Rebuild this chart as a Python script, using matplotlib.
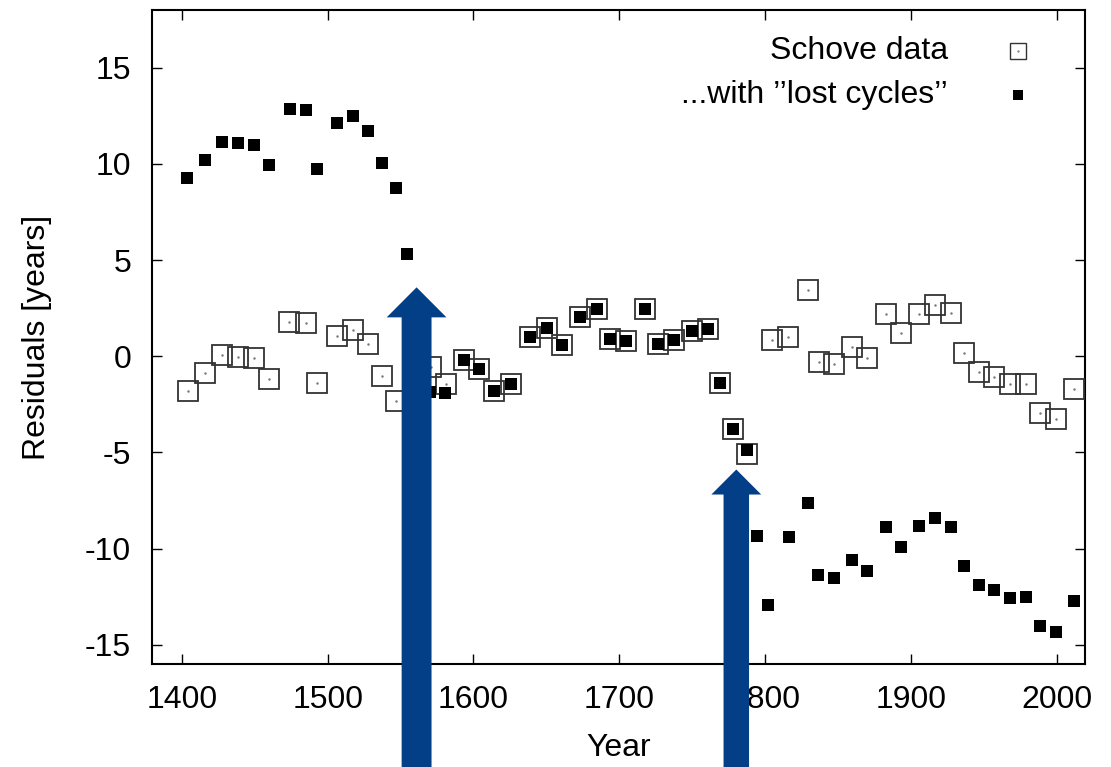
import matplotlib
matplotlib.use("Agg")
import matplotlib.pyplot as plt
from matplotlib.patches import FancyArrow

plt.rcParams['font.family'] = ['Liberation Sans', 'DejaVu Sans']
plt.rcParams['axes.unicode_minus'] = False

# Schove data (open squares)
schove_year = [1404.0, 1416.0, 1427.8, 1438.8, 1449.7, 1459.8, 1473.7, 1485.0,
               1492.9, 1506.4, 1517.5, 1528.0, 1537.4, 1547.2, 1571.0, 1581.3,
               1593.8, 1603.9, 1613.9, 1625.5, 1639.0, 1650.2, 1660.7, 1673.0,
               1684.7, 1693.8, 1704.8, 1717.8, 1726.9, 1737.9, 1750.0, 1761.0,
               1769.2, 1777.9, 1787.8, 1804.5, 1815.7, 1829.2, 1836.7, 1847.5,
               1859.4, 1869.9, 1883.2, 1893.4, 1905.5, 1916.9, 1927.6, 1936.5,
               1946.6, 1957.3, 1968.2, 1979.2, 1988.6, 1999.3, 2012.1]
schove_res = [-1.82, -0.88, 0.04, -0.02, -0.07, -1.17, 1.76, 1.71,
              -1.38, 1.07, 1.38, 0.62, -1.04, -2.31, -0.57, -1.43,
              -0.21, -0.66, -1.83, -1.42, 1.02, 1.45, 0.57, 2.02,
              2.46, 0.88, 0.81, 2.44, 0.66, 0.85, 1.32, 1.44,
              -1.38, -3.78, -5.10, 0.83, 1.02, 3.44, -0.29, -0.43,
              0.50, -0.07, 2.19, 1.19, 2.21, 2.65, 2.23, 0.18,
              -0.81, -1.07, -1.45, -1.45, -2.96, -3.27, -1.68]

# ...with "lost cycles" (filled squares)
lost_year = [1403.8, 1416.0, 1427.8, 1438.8, 1449.7, 1459.8, 1474.0, 1485.0,
             1492.9, 1506.4, 1517.5, 1527.8, 1537.4, 1547.0, 1554.5, 1570.3,
             1580.6, 1593.8, 1603.9, 1613.9, 1625.5, 1639.0, 1650.2, 1660.7,
             1673.0, 1684.7, 1693.8, 1704.8, 1717.8, 1726.9, 1737.9, 1750.0,
             1761.0, 1769.2, 1777.9, 1787.8, 1794.4, 1802.3, 1816.3, 1829.2,
             1836.6, 1847.5, 1859.5, 1869.9, 1883.1, 1893.4, 1905.3, 1916.9,
             1927.5, 1936.5, 1946.6, 1957.3, 1968.2, 1979.2, 1988.6, 1999.3,
             2012.1]
lost_res = [9.27, 10.20, 11.12, 11.07, 11.00, 9.93, 12.83, 12.80,
            9.72, 12.14, 12.47, 11.70, 10.05, 8.77, 5.29, -1.87,
            -1.92, -0.21, -0.66, -1.83, -1.42, 1.02, 1.45, 0.57,
            2.02, 2.46, 0.88, 0.81, 2.44, 0.66, 0.85, 1.32,
            1.44, -1.38, -3.78, -4.86, -9.35, -12.91, -9.39, -7.62,
            -11.37, -11.53, -10.60, -11.17, -8.90, -9.90, -8.85, -8.42,
            -8.87, -10.91, -11.91, -12.15, -12.55, -12.53, -14.04, -14.33,
            -12.74]

# arrows: (year, tip value)
arrow_year = [1561.0, 1780.3]
arrow_tip = [3.58, -5.89]

fig = plt.figure(figsize=(11.11, 7.67), dpi=100)
ax = fig.add_axes([0.1368, 0.1343, 0.8398, 0.8527])

ax.plot(schove_year, schove_res, 's', ms=14, mfc='none', mec='#333333', mew=1.3, zorder=3)
ax.plot(schove_year, schove_res, '.', ms=1.5, color='#777777', zorder=3)
ax.plot(lost_year, lost_res, 's', ms=8, color='black', mew=0, zorder=4)

ax.set_xlim(1379.5, 2019.5)
ax.set_ylim(-16, 18)
ax.set_xticks([1400, 1500, 1600, 1700, 1800, 1900, 2000])
ax.set_yticks([-15, -10, -5, 0, 5, 10, 15])
ax.tick_params(direction='in', length=7, width=1, labelsize=23, pad=15,
               top=True, right=True)
for s in ax.spines.values():
    s.set_linewidth(1.5)
ax.set_xlabel('Year', fontsize=23, labelpad=13)
ax.set_ylabel('Residuals [years]', fontsize=23, labelpad=24)

# legend drawn by hand so the text is right aligned like the original
ax.text(0.853, 0.938, 'Schove data', transform=ax.transAxes, ha='right', va='center', fontsize=23)
ax.text(0.853, 0.870, '...with \u2019\u2019lost cycles\u2019\u2019',
        transform=ax.transAxes, ha='right', va='center', fontsize=23)
ax.plot([0.928], [0.937], 's', ms=11, mfc='none', mec='#333333', mew=1.0, transform=ax.transAxes)
ax.plot([0.928], [0.937], '.', ms=1.2, color='#777777', transform=ax.transAxes)
ax.plot([0.928], [0.870], 's', ms=7, color='black', mew=0, transform=ax.transAxes)

# blue arrows pointing at the lost cycles
sizes = [(20.5, 41.0, 1.56), (17.5, 34.2, 1.30)]
for (xa, tip), (w, hw, hl) in zip(zip(arrow_year, arrow_tip), sizes):
    base = -23.0
    arr = FancyArrow(xa, base, 0, tip - base, width=w, head_width=hw, head_length=hl,
                     length_includes_head=True, color='#023f87', lw=0,
                     transform=ax.transData, clip_on=False, zorder=10)
    ax.add_patch(arr)

fig.savefig('out.png', dpi=100)
